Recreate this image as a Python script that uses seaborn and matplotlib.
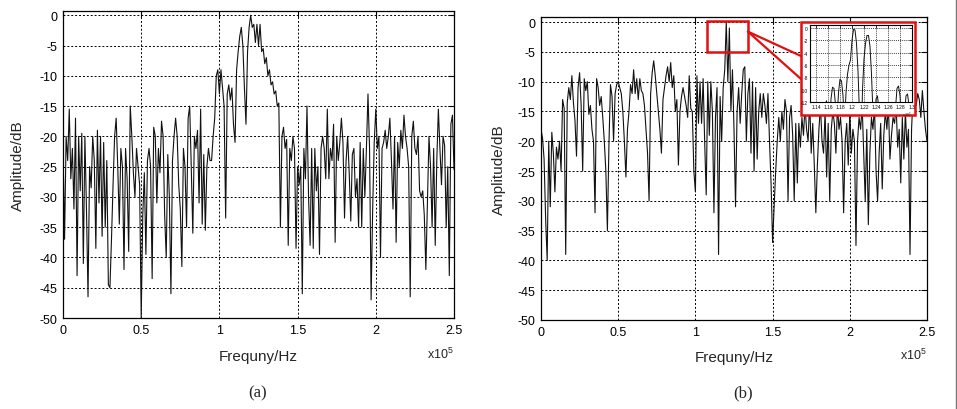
import numpy as np
import pandas as pd
import matplotlib
matplotlib.use('Agg')
import matplotlib.pyplot as plt
import seaborn as sns
from matplotlib.patches import Rectangle
from matplotlib.lines import Line2D

# 주파수 간격 (Hz)
freq_step = 1000

# (a) 스펙트럼 (dB), 0 ~ 250 kHz
amp_a = [
    -22, -37, -20, -24, -15.5, -27, -22, -32, -17, -43,
    -20, -29, -19.5, -41, -20, -32, -46.5, -25, -28.5, -20,
    -24, -38.5, -19, -31, -20, -36.5, -21, -35, -24, -44.5,
    -45, -37, -28, -20, -17, -25, -34.5, -22, -25, -42,
    -22, -27, -39, -15, -20, -26, -30, -22, -25, -28,
    -50, -33, -26, -39.5, -24, -22, -25, -43.5, -18.5, -20,
    -31, -22, -26, -17.5, -20, -33, -40, -23, -30, -46,
    -24, -20, -17, -20, -28, -32, -41.5, -22, -25, -35,
    -17, -15, -25, -36, -20, -22, -19, -31, -15.5, -34.5,
    -23, -35.5, -25, -22, -24, -24, -20, -17, -10, -9,
    -13, -9, -12, -15, -33.5, -13, -11.5, -14, -12, -18,
    -21, -9, -6, -3.5, -2, -5, -12, -18, -6, -2,
    0, -2, -1.5, -4.5, -1.5, -5, -1.5, -6, -5.5, -8,
    -7, -10, -9, -11.5, -11, -13, -12.5, -15, -14.5, -35,
    -20, -18.5, -22, -20.5, -38, -22, -24, -20, -22, -38.5,
    -25, -28, -25, -46, -22, -27, -15, -30, -38, -22,
    -38.5, -22, -29, -25, -39.5, -22, -20, -22, -27, -15.5,
    -27, -22, -24, -18, -37.5, -20, -24, -21, -17, -21,
    -33.5, -24, -20, -26, -34, -23, -22, -30, -27, -35,
    -21, -35, -22, -30, -22, -13, -22, -47, -32, -21,
    -15.5, -22, -20, -40, -22, -21, -19, -22, -20, -17,
    -24, -32, -20, -37.5, -21, -25, -19, -22, -16.5, -20,
    -22, -25, -46.5, -20, -17.5, -22, -23, -20, -29, -30,
    -29, -33, -42, -31, -20, -25, -35, -22, -38, -24,
    -15.5, -22, -28, -20, -21.5, -35, -25, -43, -18, -16.5,
    -25.5,
]

# (b) 스펙트럼 (dB), 0 ~ 250 kHz
amp_b = [
    -18, -19.5, -23, -33, -40, -20, -31, -18.5, -22, -28.5,
    -21, -23, -20, -25, -13, -14.5, -39, -13.5, -11, -13,
    -9, -13.5, -16.5, -22.5, -11, -8.5, -14, -25, -9.5, -11.5,
    -10, -15.5, -14, -18, -20, -32, -9.5, -11, -14, -12.5,
    -16, -20, -25, -35, -20.5, -10.5, -12.5, -20, -12, -10.5,
    -10, -11, -12, -15, -20, -26, -18, -15, -10.5, -12,
    -8, -12, -9.5, -13, -9.5, -11.5, -12, -14, -18, -22,
    -30, -12, -8.5, -6.5, -9, -12, -15, -18, -22, -13,
    -11, -9, -7.5, -10, -6.8, -11, -9, -15, -13, -24,
    -15, -12.5, -11, -12.5, -14, -16, -9, -14.5, -15, -25,
    -28.5, -9, -17, -10, -17, -9.5, -20, -29, -10, -19,
    -10, -15, -32, -16, -11, -39, -12.5, -20, -11, -8,
    0, -10, -1, -15, -8, -18, -31, -15, -11, -17,
    -12, -8, -7.5, -20, -12, -9.5, -22, -10, -25, -11,
    -23, -15, -12, -16, -12, -14, -17, -12, -20, -27,
    -37, -31, -25, -20, -16, -20, -15, -18, -13, -15,
    -30, -16, -14, -19, -30, -17, -27, -17, -21, -16,
    -19, -14, -18, -20, -13, -22, -17, -24, -32, -24,
    -18, -14, -20, -22, -15, -26, -17, -30, -18, -15,
    -17, -22, -14, -18, -16, -20, -32, -20, -17, -24,
    -15, -22, -18, -20, -37.5, -20, -16, -18, -14, -22,
    -30, -18, -34, -22, -16, -18, -14, -25, -30, -22,
    -17, -28, -19, -15, -18, -14, -23, -19, -16, -17,
    -14, -21, -18, -27, -16, -23, -15, -21, -18, -39,
    -18, -12, -11, -14, -12, -13, -16, -11.5, -15, -18,
    -20,
]

# (b) 확대 구간 (113 ~ 130 kHz, 250 Hz 간격)
zoom_start = 113000
zoom_step = 250
amp_zoom = [
    -18, -20, -16, -19, -22, -17, -15, -18, -21, -16,
    -12.5, -11.8, -13.5, -17, -11.5, -9.6, -9.8, -12.5, -15, -10.5,
    -8.3, -8.6, -11, -16, -10.5, -7.5, -6, -5.2, -2, -0.2,
    -0.3, -2.5, -7, -14, -20, -10, -5, -2.5, -1.2, -1.2,
    -3, -7.5, -14, -18, -11.5, -11, -13.5, -18, -15, -13,
    -17, -21, -15, -12.5, -13, -17, -20, -13, -9.8, -9.4,
    -11, -15, -19, -14, -11, -10.7, -12.5, -17, -16,
]

x_ticks = [0, 0.5, 1, 1.5, 2, 2.5]
x_tick_labels = ['0', '0.5', '1', '1.5', '2', '2.5']
y_ticks = [0, -5, -10, -15, -20, -25, -30, -35, -40, -45, -50]
zoom_x_ticks = [1.14, 1.16, 1.18, 1.2, 1.22, 1.24, 1.26, 1.28, 1.3]
zoom_y_ticks = [0, -2, -4, -6, -8, -10, -12]

df_a = pd.DataFrame({'freq': np.arange(len(amp_a)) * freq_step, 'amp': amp_a})
df_b = pd.DataFrame({'freq': np.arange(len(amp_b)) * freq_step, 'amp': amp_b})
df_z = pd.DataFrame({'freq': zoom_start + np.arange(len(amp_zoom)) * zoom_step, 'amp': amp_zoom})

sns.set_theme(style='white')
plt.rcParams['font.family'] = ['Liberation Sans', 'DejaVu Sans']
plt.rcParams['mathtext.default'] = 'regular'
plt.rcParams['axes.unicode_minus'] = False

W, H = 957, 410
fig = plt.figure(figsize=(W / 100, H / 100), dpi=100)


def px_axes(l, t, r, b):
    return fig.add_axes([l / W, 1 - b / H, (r - l) / W, (b - t) / H])


def style(ax, top, ylab_x):
    ax.set_xlim(0, 2.5e5)
    ax.set_ylim(-50, top)
    ax.set_xticks([t * 1e5 for t in x_ticks])
    ax.set_xticklabels(x_tick_labels)
    ax.set_yticks(y_ticks)
    ax.grid(True, color='black', linestyle=(0, (2, 2)), linewidth=0.7)
    ax.tick_params(direction='in', length=4, width=0.8, labelsize=9,
                   top=True, right=True, colors='black', pad=4)
    for s in ax.spines.values():
        s.set_color('black')
        s.set_linewidth(0.9)
    ax.set_xlabel('Frequny/Hz', fontsize=11)
    ax.set_ylabel('Amplitude/dB', fontsize=11)
    ax.xaxis.set_label_coords(0.5, -0.1)
    ax.yaxis.set_label_coords(ylab_x, 0.5)
    ax.text(1.0, -0.115, 'x10$^5$', transform=ax.transAxes,
            ha='right', va='center', fontsize=9)


ax_a = px_axes(63, 12, 454, 319)
sns.lineplot(data=df_a, x='freq', y='amp', ax=ax_a, color='#111111',
             linewidth=0.8, estimator=None)
style(ax_a, 0.7, -0.097)

ax_b = px_axes(541, 18, 927, 321)
sns.lineplot(data=df_b, x='freq', y='amp', ax=ax_b, color='#111111',
             linewidth=0.8, estimator=None)
style(ax_b, 0.85, -0.09)

# 확대 영역 표시
ax_b.add_patch(Rectangle((1.075e5, -5), 0.265e5, 5.15, fill=False,
                         edgecolor='#e01010', linewidth=1.8, clip_on=False, zorder=5))

# 확대창 (흰 배경 + 빨간 테두리)
box_l, box_t, box_r, box_b = 801, 23, 915, 116
fig.patches.append(Rectangle((box_l / W, 1 - box_b / H), (box_r - box_l) / W,
                             (box_b - box_t) / H, transform=fig.transFigure,
                             facecolor='white', edgecolor='#e01010',
                             linewidth=1.8, zorder=1))

# 연결선
start = fig.transFigure.inverted().transform(ax_b.transData.transform((1.34e5, -1.6)))
for end_y in (57, 80):
    fig.lines.append(Line2D([start[0], box_l / W], [start[1], 1 - end_y / H],
                            transform=fig.transFigure, color='#e01010',
                            linewidth=1.6, zorder=1.5))

ax_z = px_axes(810, 26, 912, 103)
ax_z.set_zorder(2)
sns.lineplot(data=df_z, x='freq', y='amp', ax=ax_z, color='#111111',
             linewidth=0.7, estimator=None)
ax_z.set_xlim(1.13e5, 1.30e5)
ax_z.set_ylim(-12, 0.5)
ax_z.set_xticks([t * 1e5 for t in zoom_x_ticks])
ax_z.set_xticklabels([str(t) for t in zoom_x_ticks])
ax_z.set_yticks(zoom_y_ticks)
ax_z.grid(True, color='black', linestyle=(0, (1.5, 1.5)), linewidth=0.5)
ax_z.tick_params(direction='in', length=2, width=0.5, labelsize=3.5, pad=1.5,
                 colors='black', top=True, right=True)
for s in ax_z.spines.values():
    s.set_color('black')
    s.set_linewidth(0.8)
ax_z.set_xlabel('')
ax_z.set_ylabel('')
ax_z.text(1.0, -0.16, 'x10$^5$', transform=ax_z.transAxes, ha='right',
          va='center', fontsize=3)

fig.text(258 / W, 1 - 393 / H, '(a)', ha='center', va='center', fontsize=12,
         family='Liberation Serif')
fig.text(743 / W, 1 - 393 / H, '(b)', ha='center', va='center', fontsize=12,
         family='Liberation Serif')

# 오른쪽 테두리
fig.lines.append(Line2D([955.5 / W, 955.5 / W], [0, 1], transform=fig.transFigure,
                        color='#777777', linewidth=1))

fig.savefig('out.png', dpi=100)
